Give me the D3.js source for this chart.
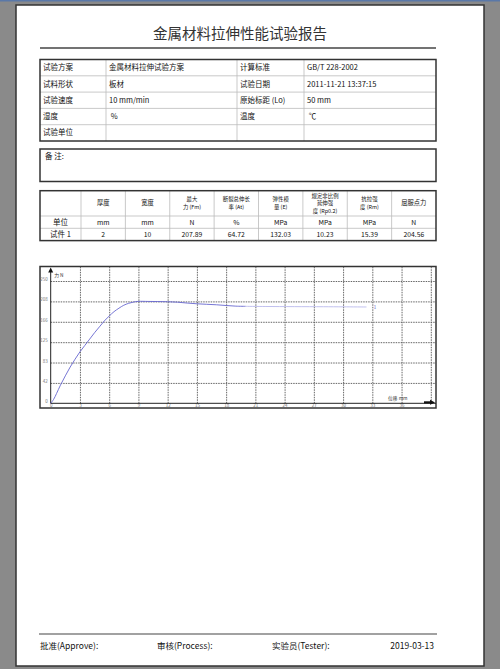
<!DOCTYPE html>
<html>
<head>
<meta charset="utf-8">
<script src="https://cdn.jsdelivr.net/npm/d3@7"></script>
<style>
  body { margin: 0; background: #8a8a8a; }
  svg { display: block; }
  text { font-family: "Noto Sans CJK SC", "Noto Sans", sans-serif; }
</style>
</head>
<body>
<div class="canvas"></div>
<script>
// ---- data ----
const title = "金属材料拉伸性能试验报告";

const infoLabelsA = ["试验方案", "试料形状", "试验速度", "湿度", "试验单位"];
const infoValuesA = ["金属材料拉伸试验方案", "板材", "10 mm/min", " %", ""];
const infoLabelsB = ["计算标准", "试验日期", "原始标距 (Lo)", "温度", ""];
const infoValuesB = ["GB/T 228-2002", "2011-11-21 13:37:15", "50 mm", " ℃", ""];

const resultHeaders = [
  [""], ["厚度"], ["宽度"], ["最大", "力 (Fm)"], ["断裂总伸长", "率 (At)"],
  ["弹性模", "量 (E)"], ["规定非比例", "延伸强", "度 (Rp0.2)"], ["抗拉强", "度 (Rm)"], ["屈服点力"]
];
const resultUnits = ["单位", "mm", "mm", "N", "%", "MPa", "MPa", "MPa", "N"];
const resultValues = ["试件 1", "2", "10", "207.89", "64.72", "132.03", "10.23", "15.39", "204.56"];

// curve: displacement (mm) vs force (N)
const displacement = [0, 0.3, 0.6, 1.0, 1.5, 2.0, 2.5, 3.0, 3.5, 4.0, 4.5, 5.0, 5.5, 6.0, 6.5, 7.0, 7.5, 8.0, 8.5, 9.0,
  10, 11, 12, 13, 14, 15, 16, 17, 18, 19, 20, 22, 25, 28, 30, 32.4];
const force = [0, 8, 20, 37, 56, 74, 90, 105, 118, 131, 144, 156, 168, 178, 187, 194, 200, 204, 206.5, 207.9,
  207.8, 207.6, 207.2, 206.3, 204.5, 203, 202, 201, 199.5, 198.2, 197.8, 197.5, 197.2, 197, 196.8, 196.5];

const xGridTicks = [0, 3, 6, 9, 12, 15, 18, 21, 24, 27, 30, 33, 36, 39];
const xLabelTicks = [0, 3, 6, 9, 12, 15, 18, 21, 24, 27, 30, 33, 36];
const yTicks = [0, 41.6, 83.2, 124.7, 166.3, 207.9, 249.5];

const footerItems = ["批准(Approve):", "审核(Process):", "实验员(Tester):"];
const footerDate = "2019-03-13";

// ---- page ----
const svg = d3.select(".canvas").append("svg")
  .attr("width", 500)
  .attr("height", 669);

svg.append("rect").attr("width", 500).attr("height", 669).attr("fill", "#8a8a8a");
svg.append("rect").attr("width", 500).attr("height", 1.5).attr("fill", "#5a78a8");
svg.append("rect")
  .attr("x", 16).attr("y", 5).attr("width", 468).attr("height", 661)
  .attr("fill", "#fff").attr("stroke", "#333").attr("stroke-width", 1.5);

const left = 40, right = 436;

svg.append("text")
  .attr("x", 240).attr("y", 39)
  .attr("text-anchor", "middle")
  .attr("font-size", 14.5)
  .attr("fill", "#333")
  .text(title);

svg.append("line")
  .attr("x1", left).attr("x2", right).attr("y1", 48).attr("y2", 48)
  .attr("stroke", "#444").attr("stroke-width", 1.5);

// ---- info table ----
const infoTop = 59.5, rowH = 16.3;
const infoCols = [40, 106, 237, 304, 436];
const info = svg.append("g");

infoLabelsA.forEach((d, i) => {
  const yy = infoTop + i * rowH + rowH / 2 + 2.6;
  const cells = [infoLabelsA[i], infoValuesA[i], infoLabelsB[i], infoValuesB[i]];
  cells.forEach((t, j) => {
    info.append("text")
      .attr("x", infoCols[j] + 3)
      .attr("y", yy)
      .attr("font-size", 7.5)
      .attr("fill", "#111")
      .attr("xml:space", "preserve")
      .text(t);
  });
});
for (let i = 1; i < 5; i++) {
  info.append("line")
    .attr("x1", left).attr("x2", right)
    .attr("y1", infoTop + i * rowH).attr("y2", infoTop + i * rowH)
    .attr("stroke", "#bbb").attr("stroke-width", 0.8);
}
infoCols.slice(1, -1).forEach(c => {
  info.append("line")
    .attr("x1", c).attr("x2", c)
    .attr("y1", infoTop).attr("y2", infoTop + 5 * rowH)
    .attr("stroke", "#bbb").attr("stroke-width", 0.8);
});
info.append("rect")
  .attr("x", left).attr("y", infoTop).attr("width", right - left).attr("height", 5 * rowH)
  .attr("fill", "none").attr("stroke", "#333").attr("stroke-width", 1.5);

// ---- remark box ----
svg.append("rect")
  .attr("x", left).attr("y", 149).attr("width", right - left).attr("height", 32.5)
  .attr("fill", "none").attr("stroke", "#333").attr("stroke-width", 1.5);
svg.append("text")
  .attr("x", 45).attr("y", 158.5)
  .attr("font-size", 7.5).attr("fill", "#111")
  .text("备 注:");

// ---- results table ----
const resTop = 190.7, headH = 25.3, subH = 12.3;
const resCols = [40].concat(d3.range(9).map(i => 81 + i * 44.375));
const res = svg.append("g");
const colCenter = i => (resCols[i] + resCols[i + 1]) / 2;

resultHeaders.forEach((lines, i) => {
  const lh = 7.8;
  const y0 = resTop + headH / 2 - (lines.length - 1) * lh / 2 + 2;
  lines.forEach((t, k) => {
    res.append("text")
      .attr("x", colCenter(i)).attr("y", y0 + k * lh)
      .attr("text-anchor", "middle")
      .attr("font-size", lines.length > 1 ? 5.4 : 6.3).attr("fill", "#111")
      .text(t);
  });
  res.append("text")
    .attr("x", colCenter(i)).attr("y", resTop + headH + subH / 2 + 2.5)
    .attr("text-anchor", "middle")
    .attr("font-size", i === 0 ? 7.5 : 6.8).attr("fill", "#111")
    .text(resultUnits[i]);
  res.append("text")
    .attr("x", colCenter(i)).attr("y", resTop + headH + subH + subH / 2 + 2.5)
    .attr("text-anchor", "middle")
    .attr("font-size", i === 0 ? 7.5 : 6.8).attr("fill", "#111")
    .text(resultValues[i]);
});
[resTop + headH, resTop + headH + subH].forEach(yy => {
  res.append("line")
    .attr("x1", left).attr("x2", right).attr("y1", yy).attr("y2", yy)
    .attr("stroke", "#bbb").attr("stroke-width", 0.8);
});
resCols.slice(1, -1).forEach(c => {
  res.append("line")
    .attr("x1", c).attr("x2", c)
    .attr("y1", resTop).attr("y2", resTop + headH + 2 * subH)
    .attr("stroke", "#bbb").attr("stroke-width", 0.8);
});
res.append("rect")
  .attr("x", left).attr("y", resTop).attr("width", right - left).attr("height", headH + 2 * subH)
  .attr("fill", "none").attr("stroke", "#333").attr("stroke-width", 1.5);

// ---- chart ----
const frameTop = 266.5, frameBottom = 408;
const x = d3.scaleLinear().domain([0, 39]).range([50.7, 430.8]);
const y = d3.scaleLinear().domain([0, 249.5]).range([403.3, 281]);

const chart = svg.append("g");

chart.append("rect")
  .attr("x", left).attr("y", frameTop).attr("width", right - left).attr("height", frameBottom - frameTop)
  .attr("fill", "#fff").attr("stroke", "#333").attr("stroke-width", 1.5);

// vertical grid
const xGrid = chart.append("g")
  .attr("transform", `translate(0, ${y(0)})`)
  .call(d3.axisBottom(x).tickValues(xGridTicks.slice(1)).tickSize(-(y(0) - frameTop)).tickFormat(""));
xGrid.select(".domain").remove();
xGrid.selectAll("line").attr("stroke", "#555").attr("stroke-width", 0.9).attr("stroke-dasharray", "1.5,1");

// horizontal grid
const yGrid = chart.append("g")
  .attr("transform", `translate(${x(0)}, 0)`)
  .call(d3.axisLeft(y).tickValues(yTicks.slice(1)).tickSize(-(right - x(0))).tickFormat(""));
yGrid.select(".domain").remove();
yGrid.selectAll("line").attr("stroke", "#555").attr("stroke-width", 0.9).attr("stroke-dasharray", "1.5,1");

// tick labels
const xLabels = chart.append("g")
  .attr("transform", `translate(0, ${y(0)})`)
  .call(d3.axisBottom(x).tickValues(xLabelTicks).tickSize(0).tickPadding(0.8));
xLabels.select(".domain").remove();
xLabels.selectAll("text").attr("font-size", 4.5).attr("fill", "#777").attr("font-family", "DejaVu Sans");

const yLabels = chart.append("g")
  .attr("transform", `translate(${x(0)}, 0)`)
  .call(d3.axisLeft(y).tickValues(yTicks).tickSize(0).tickPadding(3).tickFormat(d3.format(".0f")));
yLabels.select(".domain").remove();
yLabels.selectAll("text").attr("font-size", 4.5).attr("fill", "#777").attr("font-family", "DejaVu Sans")
  .attr("dy", "-0.1em");

// axes lines with arrows
chart.append("line")
  .attr("x1", x(0)).attr("x2", x(0)).attr("y1", y(0)).attr("y2", 270)
  .attr("stroke", "#222").attr("stroke-width", 1);
chart.append("path")
  .attr("d", `M${x(0) - 2.5},272.5 L${x(0)},267.5 L${x(0) + 2.5},272.5 Z`)
  .attr("fill", "#111");
chart.append("line")
  .attr("x1", x(0)).attr("x2", right).attr("y1", y(0)).attr("y2", y(0))
  .attr("stroke", "#222").attr("stroke-width", 1);
chart.append("rect")
  .attr("x", 424).attr("y", y(0) - 2).attr("width", 7).attr("height", 2.2)
  .attr("fill", "#111");
chart.append("path")
  .attr("d", `M430,${y(0) - 3.5} L435,${y(0) - 0.9} L430,${y(0) + 1.5} Z`)
  .attr("fill", "#111");

chart.append("text")
  .attr("x", x(0) + 3.5).attr("y", 277)
  .attr("font-size", 4.8).attr("fill", "#333")
  .text("力 N");
chart.append("text")
  .attr("x", 388).attr("y", 400)
  .attr("font-size", 4.8).attr("fill", "#333")
  .text("位移 mm");

// curve
const points = displacement.map((d, i) => ({ d: d, f: force[i] }));
const line = d3.line()
  .x(p => x(p.d))
  .y(p => y(p.f))
  .curve(d3.curveCatmullRom.alpha(0.5));

chart.append("path")
  .datum(points.filter(p => p.d <= 20))
  .attr("fill", "none")
  .attr("stroke", "#6767cf")
  .attr("stroke-width", 0.9)
  .attr("d", line);
chart.append("path")
  .datum(points.filter(p => p.d >= 20))
  .attr("fill", "none")
  .attr("stroke", "#b9b9ec")
  .attr("stroke-width", 0.9)
  .attr("d", line);

const last = points[points.length - 1];
chart.append("text")
  .attr("x", x(last.d) + 7).attr("y", y(last.f) + 2.5)
  .attr("font-size", 5).attr("fill", "#6767cf")
  .text("1");

// ---- footer ----
svg.append("line")
  .attr("x1", 39).attr("x2", 437).attr("y1", 634).attr("y2", 634)
  .attr("stroke", "#444").attr("stroke-width", 1.2);
const footerX = [40, 157, 272];
footerItems.forEach((t, i) => {
  svg.append("text")
    .attr("x", footerX[i]).attr("y", 648.5)
    .attr("font-size", 8.5).attr("fill", "#111")
    .text(t);
});
svg.append("text")
  .attr("x", 434).attr("y", 648.5)
  .attr("text-anchor", "end")
  .attr("font-size", 8.5).attr("fill", "#111")
  .text(footerDate);
</script>
</body>
</html>
